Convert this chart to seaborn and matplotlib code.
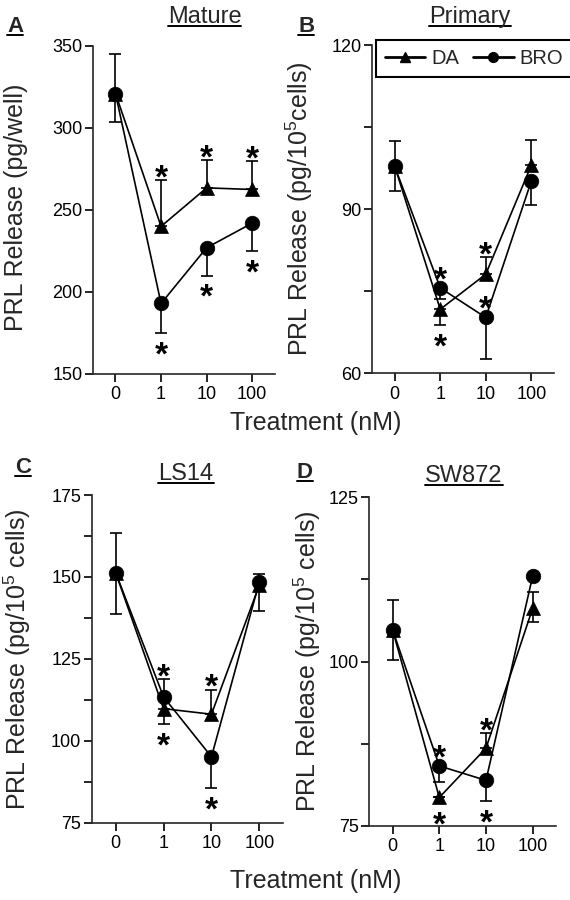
import numpy as np
import pandas as pd
import matplotlib
matplotlib.use("Agg")
import matplotlib.pyplot as plt
from matplotlib.lines import Line2D
import seaborn as sns

# ---------------- data ----------------
doses = ["0", "1", "10", "100"]

# Panel A  (Mature, pg/well)
A_da = [321, 240, 263.5, 262.5]
A_da_up = [24, 28, 17, 17.5]
A_da_dn = [0, 0, 0, 0]
A_bro = [321, 193, 227, 242]
A_bro_up = [0, 0, 0, 0]
A_bro_dn = [17.5, 18, 17, 17]

# Panel B  (Primary)
B_da = [97.8, 71.7, 78.1, 98.0]
B_da_up = [4.6, 0, 3.2, 4.7]
B_da_dn = [0, 2.9, 0, 0]
B_bro = [97.8, 75.6, 70.2, 95.1]
B_bro_up = [0, 0, 0, 0]
B_bro_dn = [4.4, 2.1, 7.6, 4.4]

# Panel C  (LS14)
C_da = [151.3, 109.8, 108.1, 147.5]
C_da_up = [12.2, 0, 7.5, 0]
C_da_dn = [0, 4.8, 0, 8.0]
C_bro = [151.3, 113.4, 95.1, 148.5]
C_bro_up = [0, 5.3, 0, 2.3]
C_bro_dn = [12.5, 0, 9.5, 0]

# Panel D  (SW872)
D_da = [104.8, 79.3, 86.8, 108.1]
D_da_up = [4.5, 0, 2.3, 2.5]
D_da_dn = [0, 0, 0, 2.1]
D_bro = [104.8, 84.1, 81.9, 113.0]
D_bro_up = [0, 0, 0, 0]
D_bro_dn = [4.5, 2.4, 3.1, 0]

# significance stars: (series, dose index, side)
A_stars = [("DA", 1, "up"), ("DA", 2, "up"), ("DA", 3, "up"),
           ("BRO", 1, "down"), ("BRO", 2, "down"), ("BRO", 3, "down")]
B_stars = [("BRO", 1, "up"), ("DA", 1, "down"), ("DA", 2, "up"), ("BRO", 2, "up")]
C_stars = [("BRO", 1, "up"), ("DA", 1, "down"), ("DA", 2, "up"), ("BRO", 2, "down")]
D_stars = [("BRO", 1, "up"), ("DA", 1, "down"), ("DA", 2, "up"), ("BRO", 2, "down")]

titles = ["Mature", "Primary", "LS14", "SW872"]
letters = ["A", "B", "C", "D"]
ylabels = ["PRL Release (pg/well)",
           r"PRL Release (pg/10$^\mathregular{5}$cells)",
           r"PRL Release (pg/10$^\mathregular{5}$ cells)",
           r"PRL Release (pg/10$^\mathregular{5}$ cells)"]
xlabel = "Treatment (nM)"

# ---------------- style ----------------
sns.set_style("ticks")
plt.rcParams["font.family"] = ["Liberation Sans", "DejaVu Sans"]
plt.rcParams["mathtext.fontset"] = "custom"
plt.rcParams["mathtext.rm"] = "Liberation Sans"

W, H = 570, 900
fig = plt.figure(figsize=(W / 100, H / 100), dpi=100)


def add_ax(l, r, t, b):
    return fig.add_axes([l / W, 1 - b / H, (r - l) / W, (b - t) / H])


axes_px = [(92.7, 275, 46, 374), (372, 554, 45, 373.3),
           (91.7, 283.3, 495, 822.7), (369.3, 556, 497.3, 825.7)]
ylims = [(150, 350), (60, 120), (75, 175), (75, 125)]
yticks = [[150, 200, 250, 300, 350], [60, 75, 90, 105, 120],
          list(np.arange(75, 175.1, 12.5)), list(np.arange(75, 125.1, 12.5))]
ylabs = [["150", "200", "250", "300", "350"], ["60", "", "90", "", "120"],
         ["75", "", "100", "", "125", "", "150", "", "175"],
         ["75", "", "100", "", "125"]]

panels = [
    (A_da, A_da_up, A_da_dn, A_bro, A_bro_up, A_bro_dn, A_stars),
    (B_da, B_da_up, B_da_dn, B_bro, B_bro_up, B_bro_dn, B_stars),
    (C_da, C_da_up, C_da_dn, C_bro, C_bro_up, C_bro_dn, C_stars),
    (D_da, D_da_up, D_da_dn, D_bro, D_bro_up, D_bro_dn, D_stars),
]

STAR_FS = 24
LW = 1.2

for i, (da, da_up, da_dn, bro, bro_up, bro_dn, stars) in enumerate(panels):
    ax = add_ax(*axes_px[i])
    pos = np.arange(len(doses))
    df = pd.DataFrame({
        "pos": np.concatenate([pos, pos]),
        "value": list(da) + list(bro),
        "series": ["DA"] * len(doses) + ["BRO"] * len(doses),
    })
    # error bars
    ax.errorbar(pos, da, yerr=[da_dn, da_up], fmt="none", ecolor="black",
                elinewidth=LW, capsize=4.5, capthick=LW, zorder=1)
    ax.errorbar(pos, bro, yerr=[bro_dn, bro_up], fmt="none", ecolor="black",
                elinewidth=LW, capsize=4.5, capthick=LW, zorder=1)
    sns.lineplot(data=df, x="pos", y="value", style="series",
                 style_order=["DA", "BRO"],
                 markers={"DA": "^", "BRO": "o"}, dashes=False, color="black",
                 markersize=10.5, markeredgecolor="black", markeredgewidth=0.5,
                 linewidth=LW, legend=False, ax=ax, zorder=3, sort=False)

    data = {"DA": (da, da_up, da_dn), "BRO": (bro, bro_up, bro_dn)}
    for ser, idx, side in stars:
        v, up, dn = data[ser]
        err = up[idx] if side == "up" else dn[idx]
        y = v[idx] + err if side == "up" else v[idx] - err
        off_px = 12 if err > 0.01 else 18
        off_pt = off_px * 0.72
        sign = 1 if side == "up" else -1
        # glyph centre sits ~0.58 em above baseline
        dy = sign * off_pt - 0.58 * STAR_FS
        ax.annotate("*", xy=(idx, y), xytext=(0, dy), textcoords="offset points",
                    ha="center", va="baseline", fontsize=STAR_FS,
                    fontweight="bold", color="black")

    ax.set_xlim(-0.5, 3.5)
    ax.set_ylim(*ylims[i])
    ax.set_xticks(pos)
    ax.set_xticklabels(doses)
    ax.set_yticks(yticks[i])
    ax.set_yticklabels(ylabs[i])
    ax.set_xlabel("")
    ax.set_ylabel("")
    for s in ["top", "right"]:
        ax.spines[s].set_visible(False)
    for s in ["left", "bottom"]:
        ax.spines[s].set_linewidth(1.2)
    ax.tick_params(axis="both", direction="out", width=1.2, labelsize=13,
                   colors="black")
    ax.tick_params(axis="x", length=5.8, pad=3)
    ax.tick_params(axis="y", length=5.5, pad=2)

# y labels
ylab_pos = [(16, 207), (299, 209), (17, 659), (307, 661)]
for (x, y), lab in zip(ylab_pos, ylabels):
    fig.text(x / W, 1 - y / H, lab, rotation=90, ha="center", va="center",
             fontsize=18)

# x labels
fig.text(316 / W, 1 - 430 / H, xlabel, ha="center", va="baseline", fontsize=18)
fig.text(316 / W, 1 - 888 / H, xlabel, ha="center", va="baseline", fontsize=18)

# titles and panel letters (underlined)
fig.canvas.draw()
renderer = fig.canvas.get_renderer()


def underlined(x, y, s, ha, **kw):
    t = fig.text(x / W, 1 - y / H, s, ha=ha, va="baseline", **kw)
    bb = t.get_window_extent(renderer=renderer)
    ybase = (1 - y / H) * H - 2.5
    fig.add_artist(Line2D([bb.x0 / W, bb.x1 / W], [ybase / H, ybase / H],
                          color="black", lw=1.4, transform=fig.transFigure))
    return t


title_pos = [(204.5, 23), (470, 23), (186, 480), (464, 482)]
for (x, y), s in zip(title_pos, titles):
    underlined(x, y, s, "center", fontsize=17)

letter_pos = [(7, 32), (298, 32), (15, 473), (297, 478)]
for (x, y), s in zip(letter_pos, letters):
    underlined(x, y, s, "left", fontsize=16, fontweight="bold")

# legend
handles = [Line2D([], [], color="black", marker="^", markersize=7, lw=2.0),
           Line2D([], [], color="black", marker="o", markersize=7, lw=2.0)]
leg = fig.legend(handles, ["DA", "BRO"], ncol=2, loc="upper left",
                 bbox_to_anchor=(376 / W, 1 - 40 / H), frameon=True,
                 fancybox=False, framealpha=1, edgecolor="black", fontsize=14.5,
                 handlelength=2.0, handletextpad=0.3, columnspacing=0.7,
                 borderpad=0.45, borderaxespad=0)
leg.get_frame().set_linewidth(1.5)

fig.savefig("out.png", dpi=100)
